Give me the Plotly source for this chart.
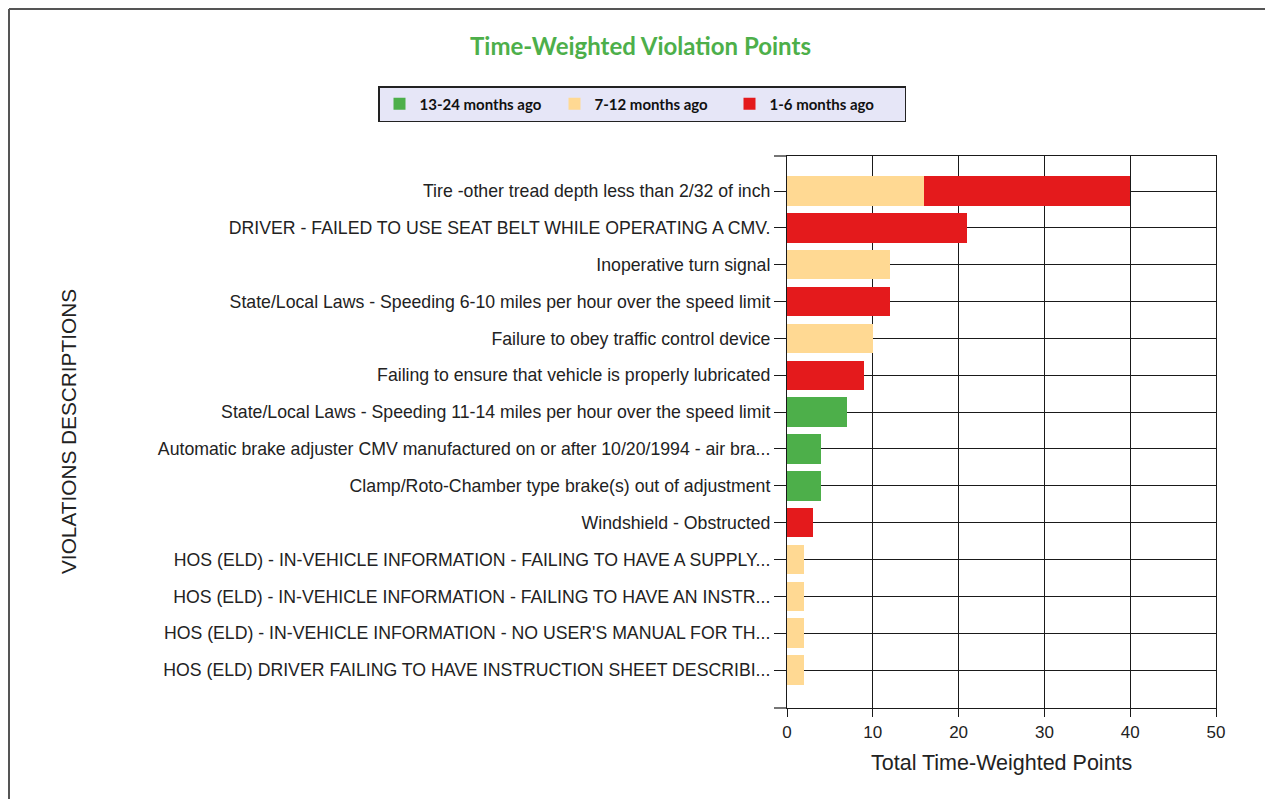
import plotly.graph_objects as go

categories = [
    "Tire -other tread depth less than 2/32 of inch",
    "DRIVER - FAILED TO USE SEAT BELT WHILE OPERATING A CMV.",
    "Inoperative turn signal",
    "State/Local Laws - Speeding 6-10 miles per hour over the speed limit",
    "Failure to obey traffic control device",
    "Failing to ensure that vehicle is properly lubricated",
    "State/Local Laws - Speeding 11-14 miles per hour over the speed limit",
    "Automatic brake adjuster CMV manufactured on or after 10/20/1994 - air bra...",
    "Clamp/Roto-Chamber type brake(s) out of adjustment",
    "Windshield - Obstructed",
    "HOS (ELD) - IN-VEHICLE INFORMATION - FAILING TO HAVE A SUPPLY...",
    "HOS (ELD) - IN-VEHICLE INFORMATION - FAILING TO HAVE AN INSTR...",
    "HOS (ELD) - IN-VEHICLE INFORMATION - NO USER'S MANUAL FOR TH...",
    "HOS (ELD) DRIVER FAILING TO HAVE INSTRUCTION SHEET DESCRIBI...",
]
months_13_24 = [0, 0, 0, 0, 0, 0, 7, 4, 4, 0, 0, 0, 0, 0]
months_7_12 = [16, 0, 12, 0, 10, 0, 0, 0, 0, 0, 2, 2, 2, 2]
months_1_6 = [24, 21, 0, 12, 0, 9, 0, 0, 0, 3, 0, 0, 0, 0]
series_names = ["13-24 months ago", "7-12 months ago", "1-6 months ago"]
series_colors = ["#4DAF4A", "#FFD993", "#E41A1C"]

OFF = 8  # page body margin
W, H = 1273 - OFF, 799 - OFF
L, R, T, B = 787 - OFF, 1216 - OFF, 156 - OFF, 708 - OFF
pw, ph = R - L, B - T


def px(x_ref):
    return (x_ref - OFF - L) / pw


def py(y_ref):
    return (B - (y_ref - OFF)) / ph


fig = go.Figure()
for name, vals, col in zip(series_names, [months_13_24, months_7_12, months_1_6], series_colors):
    fig.add_trace(go.Bar(
        y=categories, x=vals, name=name, orientation="h",
        marker=dict(color=col, line=dict(width=0)),
    ))

tick_font = dict(family="Liberation Sans, Arial, sans-serif", size=17.7, color="#222222")
xtick_font = dict(family="Liberation Sans, Arial, sans-serif", size=17, color="#222222")
grid_col = "#1a1a1a"

fig.update_layout(
    width=W, height=H,
    margin=dict(l=L, r=W - R, t=T, b=H - B, pad=0),
    paper_bgcolor="white", plot_bgcolor="white",
    barmode="stack", bargap=0.2,
    showlegend=True,
    title=dict(text="<b>Time-Weighted Violation Points</b>", xref="container", x=(640.5 - OFF) / W,
               xanchor="center", yref="container", y=1 - (47 - OFF) / H, yanchor="middle",
               font=dict(family="Lato, sans-serif", size=24, color="#4DAF4A")),
    legend=dict(orientation="h", x=px(378), y=py(86), xanchor="left", yanchor="top",
                bgcolor="#E6E6F7", bordercolor="#222222", borderwidth=1.5,
                font=dict(family="Lato, sans-serif", size=15, color="#111111", weight="bold"),
                traceorder="normal", itemwidth=30, entrywidth=130, entrywidthmode="pixels"),
    xaxis=dict(range=[0, 50], dtick=10, tick0=0, showgrid=True, gridcolor=grid_col, gridwidth=1.2,
               showline=True, linecolor=grid_col, linewidth=1.2, mirror=True,
               ticks="outside", ticklen=8, tickcolor=grid_col, tickfont=xtick_font, zeroline=False),
    yaxis=dict(categoryorder="array", categoryarray=categories, range=[14.03, -0.95],
               showgrid=True, gridcolor=grid_col, gridwidth=1.2,
               showline=True, linecolor=grid_col, linewidth=1.2, mirror=True,
               ticks="outside", ticklen=12, tickcolor=grid_col, tickfont=tick_font),
    font=dict(family="Liberation Sans, Arial, sans-serif"),
)

fig.add_annotation(text="Total Time-Weighted Points", xref="paper", yref="paper",
                   x=0.5, y=py(763), xanchor="center", yanchor="middle", showarrow=False,
                   font=dict(family="Liberation Sans, Arial, sans-serif", size=21.5, color="#222222"))
fig.add_annotation(text="VIOLATIONS DESCRIPTIONS", xref="paper", yref="paper",
                   x=px(68), y=py(432), xanchor="center", yanchor="middle", showarrow=False,
                   textangle=-90,
                   font=dict(family="Liberation Sans, Arial, sans-serif", size=20.8, color="#222222"))

# tick marks at the top and bottom boundaries of the category axis
for yb in (0, 1):
    fig.add_shape(type="line", xref="paper", yref="paper", x0=px(774), x1=0, y0=yb, y1=yb,
                  line=dict(color=grid_col, width=1.2))

# outer frame lines (top and left)
fig.add_shape(type="line", xref="paper", yref="paper", x0=px(OFF + 1), x1=px(1300), y0=py(OFF + 1), y1=py(OFF + 1),
              line=dict(color="#555555", width=2))
fig.add_shape(type="line", xref="paper", yref="paper", x0=px(OFF + 1), x1=px(OFF + 1), y0=py(OFF + 1), y1=py(830),
              line=dict(color="#555555", width=2))

fig.write_html("out.html")
